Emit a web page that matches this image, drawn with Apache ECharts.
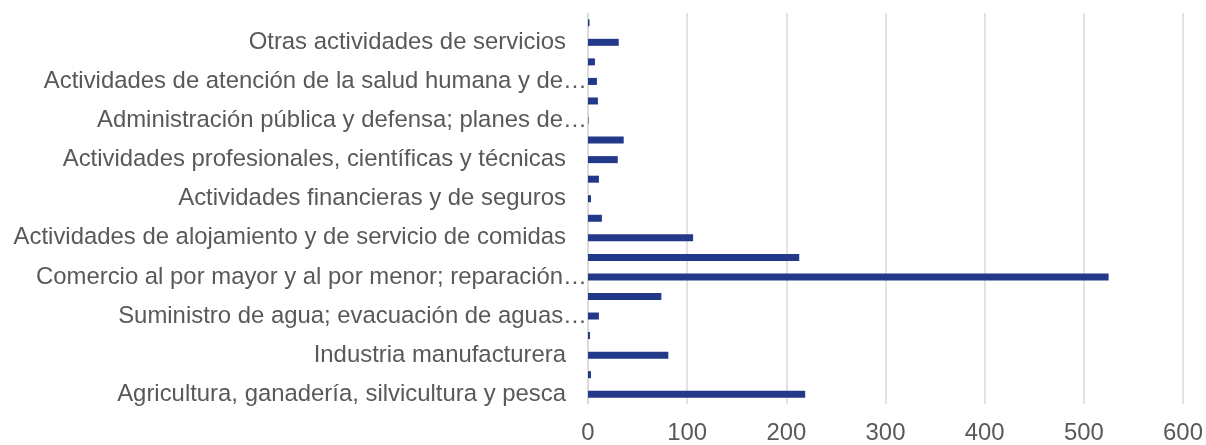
<!DOCTYPE html>
<html>
<head>
<meta charset="utf-8">
<script src="https://cdn.jsdelivr.net/npm/echarts@6/dist/echarts.min.js"></script>
<style>
  html, body { margin: 0; padding: 0; background: #fff; }
  #chart { width: 1206px; height: 445px; }
</style>
</head>
<body>
<div id="chart"></div>
<script>
// sectores, de abajo hacia arriba
const sectores = [
  "Agricultura, ganadería, silvicultura y pesca",
  "Explotación de minas y canteras",
  "Industria manufacturera",
  "Suministro de electricidad, gas, vapor y aire acondicionado",
  "Suministro de agua; evacuación de aguas residuales, gestión de desechos y descontaminación",
  "Construcción",
  "Comercio al por mayor y al por menor; reparación de vehículos automotores y motocicletas",
  "Transporte y almacenamiento",
  "Actividades de alojamiento y de servicio de comidas",
  "Información y comunicaciones",
  "Actividades financieras y de seguros",
  "Actividades inmobiliarias",
  "Actividades profesionales, científicas y técnicas",
  "Actividades de servicios administrativos y de apoyo",
  "Administración pública y defensa; planes de seguridad social de afiliación obligatoria",
  "Enseñanza",
  "Actividades de atención de la salud humana y de asistencia social",
  "Actividades artísticas, de entretenimiento y recreativas",
  "Otras actividades de servicios",
  "Actividades de los hogares como empleadores"
];
const valores = [219, 3, 81, 2, 11, 74, 525, 213, 106, 14, 3, 11, 30, 36, 0.5, 10, 9, 7, 31, 1.5];
const ticksX = [0, 100, 200, 300, 400, 500, 600];

const TAM = 23.9;
const ctx = document.createElement("canvas").getContext("2d");
ctx.font = TAM + "px 'Liberation Sans'";
const ancho = (t) => ctx.measureText(t).width;

// como Excel: corta por palabras y pone "…" pegado al eje
function etiqueta(texto) {
  if (ancho(texto) <= 556) return "{full|" + texto + "}";
  const palabras = texto.split(" ");
  let s = palabras[0];
  for (let i = 1; i < palabras.length; i++) {
    const prueba = s + " " + palabras[i];
    if (ancho(prueba + "…") > 570) break;
    s = prueba;
  }
  return "{cut|" + s + "…}";
}

const chart = echarts.init(document.getElementById("chart"));
chart.setOption({
  animation: false,
  textStyle: { fontFamily: "Liberation Sans, Arial, sans-serif" },
  grid: { left: 588, right: 23, top: 13, bottom: 39, containLabel: false },
  xAxis: {
    type: "value",
    min: ticksX[0],
    max: ticksX[ticksX.length - 1],
    interval: 100,
    axisLine: { show: false },
    axisTick: { show: false },
    splitLine: { lineStyle: { color: "#d9d9d9", width: 1.5 } },
    axisLabel: { color: "#595959", fontSize: TAM, margin: 17 }
  },
  yAxis: {
    type: "category",
    data: sectores,
    axisLine: { show: true, lineStyle: { color: "#d9d9d9", width: 1.5 } },
    axisTick: { show: false },
    axisLabel: {
      interval: 1,
      margin: 1,
      formatter: etiqueta,
      rich: {
        full: { color: "#595959", fontSize: TAM, padding: [0, 21, 0, 0] },
        cut: { color: "#595959", fontSize: TAM }
      }
    }
  },
  series: [{
    type: "bar",
    data: valores,
    barWidth: 7,
    itemStyle: { color: "#22398a" }
  }]
});
</script>
</body>
</html>
